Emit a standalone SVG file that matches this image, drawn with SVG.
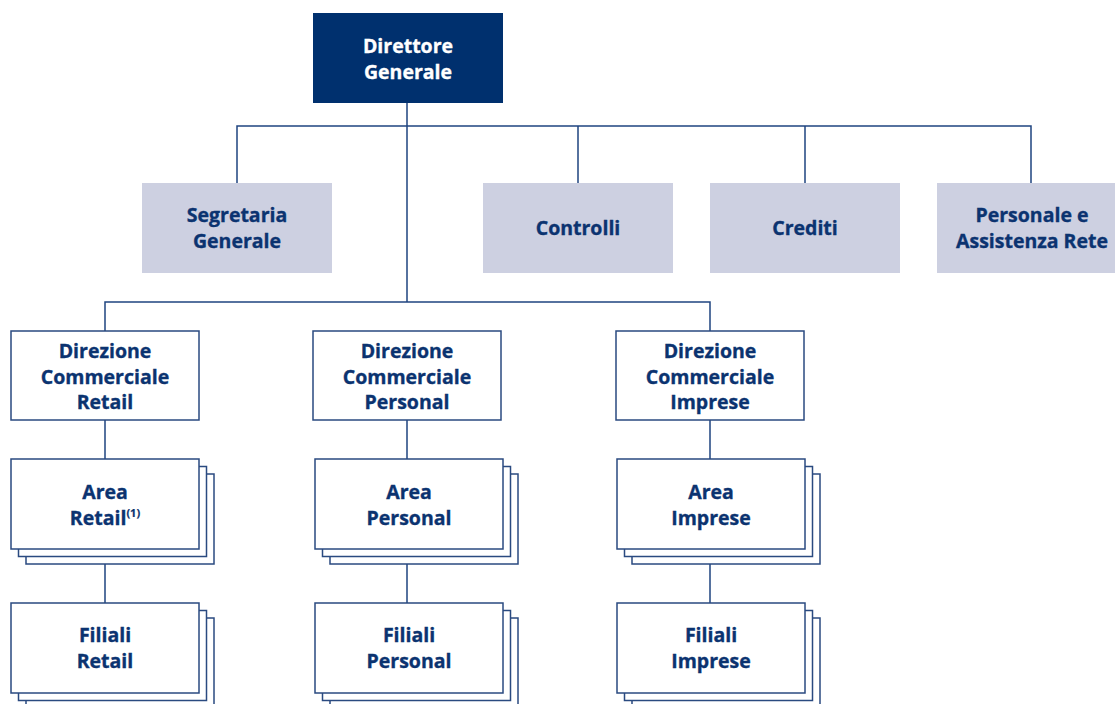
<svg xmlns="http://www.w3.org/2000/svg" width="1115" height="704" viewBox="0 0 1115 704">
<style>
.ln{fill:none;stroke:#1f4480;stroke-width:1.5}
.top{fill:#00306e}
.gray{fill:#cdd0e1}
.box{fill:#ffffff;stroke:#2a4a80;stroke-width:1.5}
text{font-family:"Open Sans","Noto Sans","DejaVu Sans",sans-serif;font-weight:bold;font-size:19.5px;fill:#0b3370;stroke:#0b3370;stroke-width:0.35;text-anchor:middle}
.w{fill:#ffffff;stroke:#ffffff}
.sup{font-size:11px;stroke-width:0.2}
</style>
<rect width="1115" height="704" fill="#ffffff"/>
<g id="connectors">
<path class="ln" d="M407 103V302M237 183V126H1031V183M578 126V183M805 126V183"/>
<path class="ln" d="M105 331V302H710V331"/>
<path class="ln" d="M105 420V459M105 564V603M407 420V459M407 564V603M710 420V459M710 564V603"/>
</g>
<g id="direttore">
<rect class="top" x="313" y="13" width="190" height="90"/>
<text class="w" x="408" y="53">Direttore</text>
<text class="w" x="408" y="79">Generale</text>
</g>
<g id="segretaria">
<rect class="gray" x="142" y="183" width="190" height="90"/>
<text x="237" y="222">Segretaria</text>
<text x="237" y="248">Generale</text>
</g>
<g id="controlli">
<rect class="gray" x="483" y="183" width="190" height="90"/>
<text x="578" y="235">Controlli</text>
</g>
<g id="crediti">
<rect class="gray" x="710" y="183" width="190" height="90"/>
<text x="805" y="235">Crediti</text>
</g>
<g id="personale">
<rect class="gray" x="937" y="183" width="190" height="90"/>
<text x="1032" y="222">Personale e</text>
<text x="1032" y="248">Assistenza Rete</text>
</g>
<g id="dc-retail">
<rect class="box" x="11" y="331" width="188" height="89"/>
<text x="105" y="358">Direzione</text>
<text x="105" y="384">Commerciale</text>
<text x="105" y="409">Retail</text>
</g>
<g id="dc-personal">
<rect class="box" x="313" y="331" width="188" height="89"/>
<text x="407" y="358">Direzione</text>
<text x="407" y="384">Commerciale</text>
<text x="407" y="409">Personal</text>
</g>
<g id="dc-imprese">
<rect class="box" x="616" y="331" width="188" height="89"/>
<text x="710" y="358">Direzione</text>
<text x="710" y="384">Commerciale</text>
<text x="710" y="409">Imprese</text>
</g>
<g id="area-retail">
<rect class="box" x="26" y="474" width="188" height="90"/>
<rect class="box" x="18.5" y="466.5" width="188" height="90"/>
<rect class="box" x="11" y="459" width="188" height="90"/>
<text x="105" y="499">Area</text>
<text x="105" y="525">Retail<tspan class="sup" dy="-8">(1)</tspan></text>
</g>
<g id="area-personal">
<rect class="box" x="330" y="474" width="188" height="90"/>
<rect class="box" x="322.5" y="466.5" width="188" height="90"/>
<rect class="box" x="315" y="459" width="188" height="90"/>
<text x="409" y="499">Area</text>
<text x="409" y="525">Personal</text>
</g>
<g id="area-imprese">
<rect class="box" x="632" y="474" width="188" height="90"/>
<rect class="box" x="624.5" y="466.5" width="188" height="90"/>
<rect class="box" x="617" y="459" width="188" height="90"/>
<text x="711" y="499">Area</text>
<text x="711" y="525">Imprese</text>
</g>
<g id="filiali-retail">
<rect class="box" x="26" y="618" width="188" height="90"/>
<rect class="box" x="18.5" y="610.5" width="188" height="90"/>
<rect class="box" x="11" y="603" width="188" height="90"/>
<text x="105" y="642">Filiali</text>
<text x="105" y="668">Retail</text>
</g>
<g id="filiali-personal">
<rect class="box" x="330" y="618" width="188" height="90"/>
<rect class="box" x="322.5" y="610.5" width="188" height="90"/>
<rect class="box" x="315" y="603" width="188" height="90"/>
<text x="409" y="642">Filiali</text>
<text x="409" y="668">Personal</text>
</g>
<g id="filiali-imprese">
<rect class="box" x="632" y="618" width="188" height="90"/>
<rect class="box" x="624.5" y="610.5" width="188" height="90"/>
<rect class="box" x="617" y="603" width="188" height="90"/>
<text x="711" y="642">Filiali</text>
<text x="711" y="668">Imprese</text>
</g>
</svg>
